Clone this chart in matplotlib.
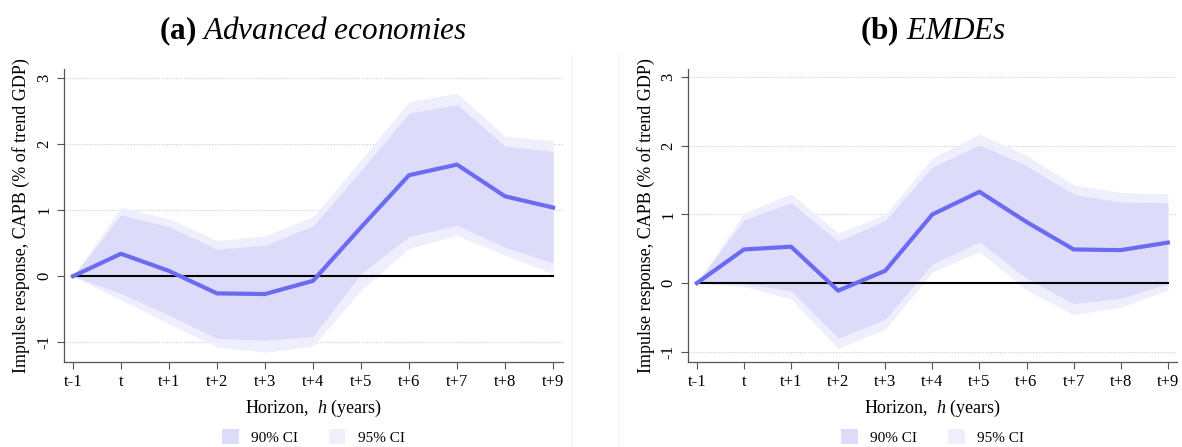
import numpy as np
import matplotlib.pyplot as plt
from matplotlib.patches import Patch

plt.rcParams['font.family'] = ['Liberation Serif', 'DejaVu Serif']
plt.rcParams['mathtext.fontset'] = 'custom'
plt.rcParams['mathtext.rm'] = 'Liberation Serif'
plt.rcParams['mathtext.it'] = 'Liberation Serif:italic'
plt.rcParams['mathtext.bf'] = 'Liberation Serif:bold'

horizons = ['t-1', 't', 't+1', 't+2', 't+3', 't+4', 't+5', 't+6', 't+7', 't+8', 't+9']

# (a) Advanced economies
adv_irf = [0, 0.34, 0.08, -0.26, -0.27, -0.07, 0.74, 1.53, 1.69, 1.21, 1.04]
adv_up90 = [0, 0.93, 0.75, 0.41, 0.47, 0.76, 1.60, 2.47, 2.60, 1.97, 1.89]
adv_lo90 = [0, -0.26, -0.59, -0.94, -0.97, -0.91, 0.04, 0.60, 0.77, 0.44, 0.20]
adv_up95 = [0, 1.04, 0.87, 0.54, 0.61, 0.90, 1.76, 2.64, 2.77, 2.12, 2.05]
adv_lo95 = [0, -0.36, -0.72, -1.07, -1.15, -1.06, -0.21, 0.42, 0.62, 0.32, 0.04]

# (b) EMDEs
emde_irf = [0, 0.49, 0.53, -0.11, 0.18, 1.00, 1.33, 0.89, 0.49, 0.48, 0.59]
emde_up90 = [0, 0.92, 1.17, 0.61, 0.91, 1.69, 2.01, 1.71, 1.29, 1.18, 1.17]
emde_lo90 = [0, -0.01, -0.11, -0.80, -0.53, 0.28, 0.60, 0.07, -0.30, -0.22, -0.01]
emde_up95 = [0, 1.02, 1.30, 0.73, 1.00, 1.82, 2.17, 1.86, 1.43, 1.32, 1.30]
emde_lo95 = [0, -0.05, -0.23, -0.95, -0.67, 0.16, 0.46, -0.10, -0.46, -0.35, -0.10]

line_col = '#6B6BF2'
c90 = '#DCDCFA'
c95 = '#EEEEFC'
spine_col = '#555555'

fig = plt.figure(figsize=(11.82, 4.47), dpi=100)
ax1 = fig.add_axes([0.054, 0.190, 0.422, 0.656])
ax2 = fig.add_axes([0.582, 0.190, 0.414, 0.656])

# faint panel borders
for xf in [0.484, 0.523]:
    fig.add_artist(plt.Line2D([xf, xf], [0, 0.88], color='#f3f3f3', lw=0.8))

panels = [
    (ax1, '(a)', 'Advanced economies', adv_irf, adv_up90, adv_lo90, adv_up95, adv_lo95, (-1.3, 3.14)),
    (ax2, '(b)', 'EMDEs', emde_irf, emde_up90, emde_lo90, emde_up95, emde_lo95, (-1.15, 3.12)),
]

x = np.arange(len(horizons))
for ax, tag, name, irf, up90, lo90, up95, lo95, ylim in panels:
    ax.fill_between(x, lo95, up95, color=c95, lw=0, zorder=1)
    ax.fill_between(x, lo90, up90, color=c90, lw=0, zorder=2)
    for yv in [-1, 1, 2, 3]:
        ax.axhline(yv, color='#cccccc', lw=0.8, ls=(0, (1, 1.5)), zorder=0)
    ax.plot([0, len(horizons) - 1], [0, 0], color='black', lw=1.5, zorder=3)
    ax.plot(x, irf, color=line_col, lw=3, zorder=4)

    ax.set_xlim(-0.19, len(horizons) - 1 + 0.2)
    ax.set_ylim(*ylim)
    ax.set_xticks(x)
    ax.set_xticklabels(horizons, fontsize=12)
    ax.set_yticks([-1, 0, 1, 2, 3])
    ax.set_yticklabels(['-1', '0', '1', '2', '3'], fontsize=12, rotation=90, va='center')
    ax.tick_params(axis='both', direction='out', length=5, color=spine_col, width=0.8)
    for s in ['top', 'right']:
        ax.spines[s].set_visible(False)
    for s in ['left', 'bottom']:
        ax.spines[s].set_color(spine_col)
        ax.spines[s].set_linewidth(0.9)

    ax.set_ylabel('Impulse response, CAPB (% of trend GDP)', fontsize=13, labelpad=4)
    ax.set_xlabel('Horizon,  $\\it{h}$ (years)', fontsize=13, labelpad=6)
    ax.set_title(r'$\bf{' + tag + '}$ ' + r'$\it{' + name.replace(' ', r'\ ') + '}$',
                 fontsize=22.5, pad=21)

    handles = [Patch(facecolor=c90, edgecolor='none', label='90% CI'),
               Patch(facecolor=c95, edgecolor='none', label='95% CI')]
    ax.legend(handles=handles, loc='center', bbox_to_anchor=(0.5, -0.256),
              ncol=2, frameon=False, fontsize=11, handlelength=1.1, handleheight=1.1,
              columnspacing=2.0, handletextpad=0.8, borderpad=0.1)

fig.savefig('out.png', dpi=100)
